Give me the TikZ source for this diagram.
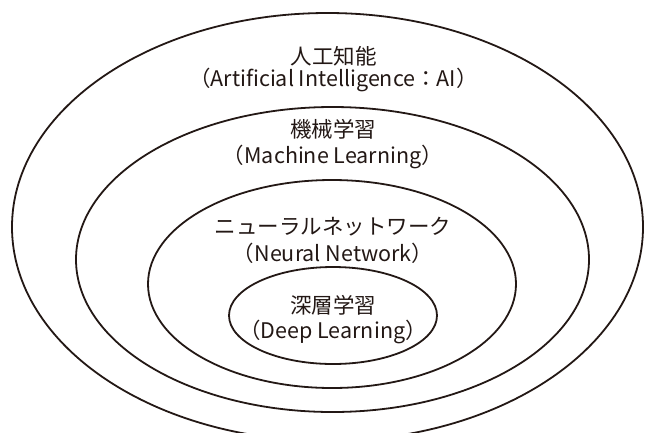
\documentclass[tikz,border=0pt]{standalone}
\usepackage{fontspec}
\setmainfont{Noto Sans CJK JP}
\usetikzlibrary{shapes.geometric}
\definecolor{inkdark}{HTML}{231815}

\begin{document}
\begin{tikzpicture}[x=1pt, y=-1pt,
    ring/.style={draw=inkdark, line width=1.8pt, ellipse, inner sep=0pt},
    jptext/.style={text=inkdark, font=\fontsize{21.5}{26}\selectfont, inner sep=0pt},
    entext/.style={text=inkdark, font=\fontsize{21.5}{26}\selectfont, inner sep=0pt}
]
\useasboundingbox (0,0) rectangle (645,432);
\clip (0,0) rectangle (645,432);

% Ring 1: AI
\node[ring, minimum width=631pt, minimum height=428pt] (ai) at (327.5,227) {};
\node[jptext] (aijp) at (333.5,56) {人工知能};
\node[entext] (aien) at (333.5,80) {（Artificial Intelligence：AI）};

% Ring 2: Machine learning
\node[ring, minimum width=513pt, minimum height=305pt] (ml) at (332.5,259.5) {};
\node[jptext] (mljp) at (333,129) {機械学習};
\node[entext] (mlen) at (333,157) {（Machine Learning）};

% Ring 3: Neural network
\node[ring, minimum width=368pt, minimum height=208pt] (nn) at (332,284) {};
\node[jptext] (nnjp) at (333,227) {ニューラルネットワーク};
\node[entext] (nnen) at (333,253) {（Neural Network）};

% Ring 4: Deep learning
\node[ring, minimum width=208pt, minimum height=97pt] (dl) at (333,315.5) {};
\node[jptext] (dljp) at (333,305) {深層学習};
\node[entext] (dlen) at (333,332) {（Deep Learning）};
\end{tikzpicture}
\end{document}
